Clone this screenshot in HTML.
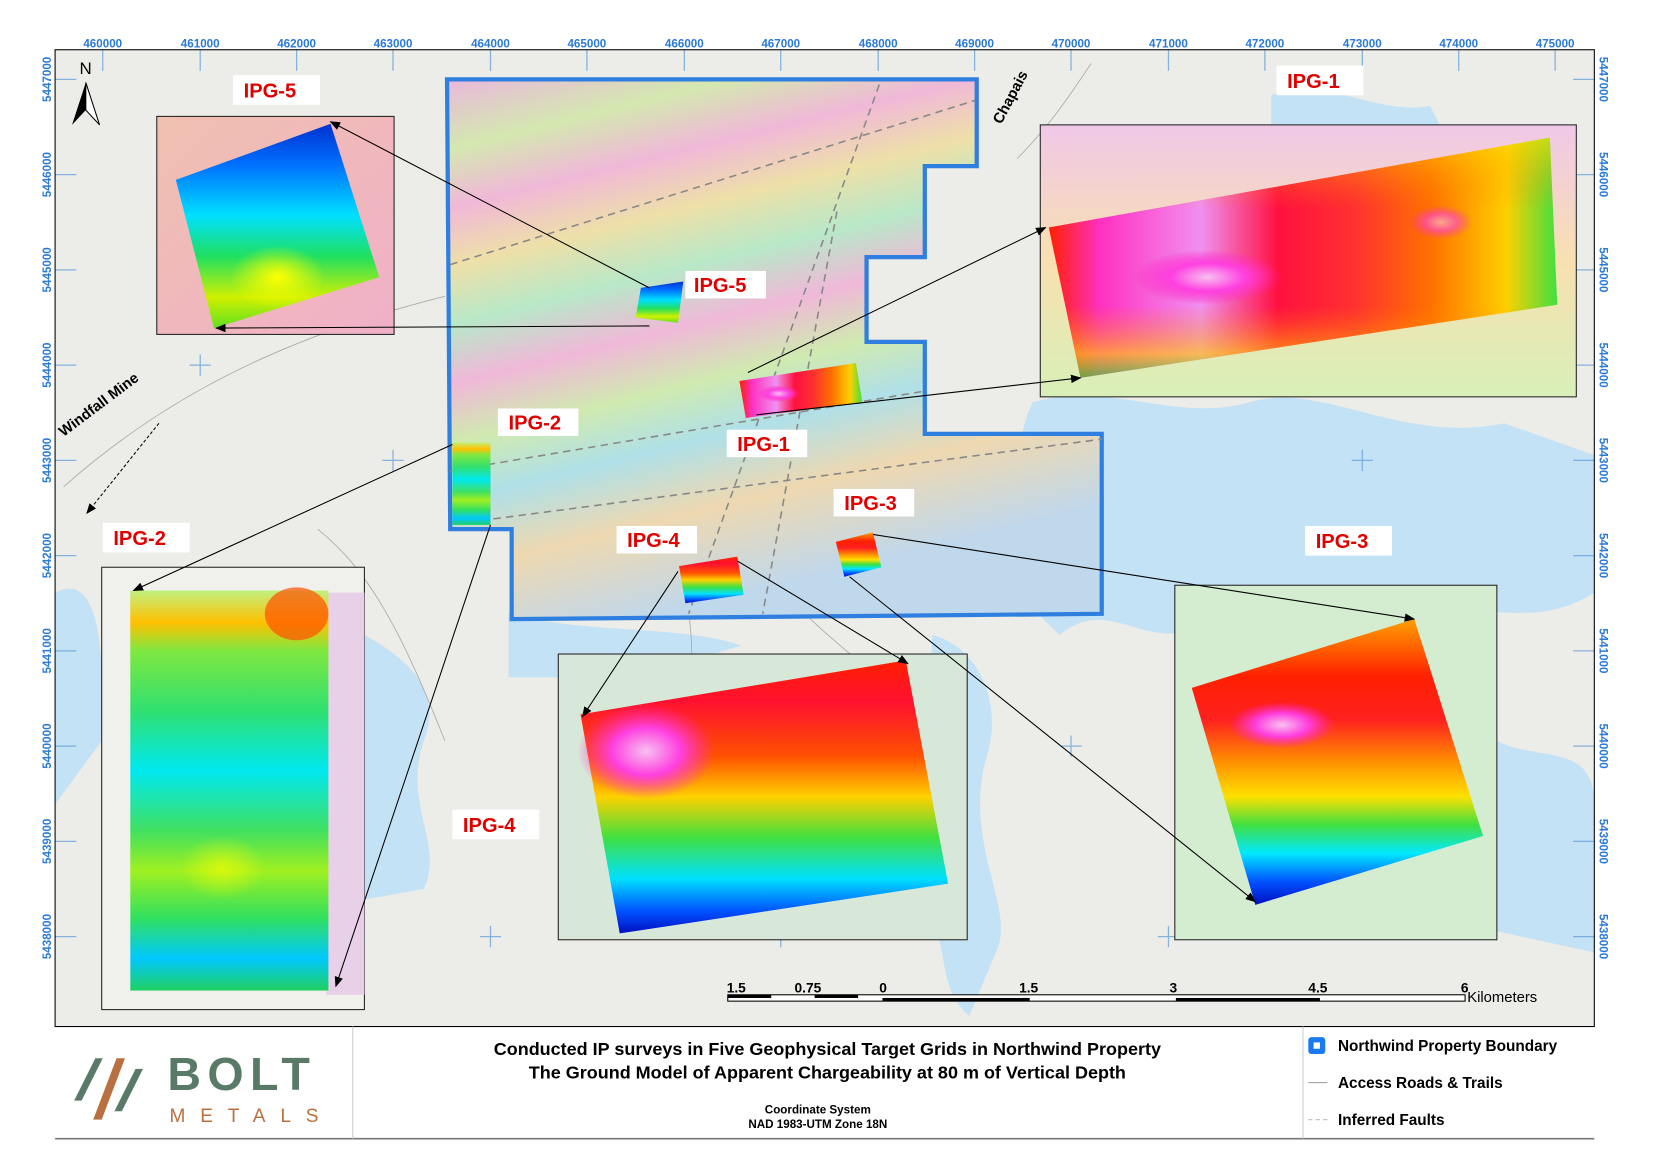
<!DOCTYPE html>
<html><head><meta charset="utf-8"><style>
html,body{margin:0;padding:0;background:#fff;width:1660px;height:1162px;overflow:hidden}
svg{display:block}
text{font-family:"Liberation Sans","DejaVu Sans",sans-serif}
</style></head><body>
<svg width="1660" height="1162" viewBox="0 0 1567 1098" preserveAspectRatio="none" xmlns="http://www.w3.org/2000/svg">
<defs>
<linearGradient id="prop" x1="0" y1="0" x2="0.3" y2="1">
<stop offset="0" stop-color="#eab8dc"/><stop offset="0.12" stop-color="#d4e8b0"/><stop offset="0.22" stop-color="#f0b8d8"/><stop offset="0.32" stop-color="#eee0a8"/><stop offset="0.42" stop-color="#b8e8c8"/><stop offset="0.52" stop-color="#f0b8d8"/><stop offset="0.62" stop-color="#d0eab0"/><stop offset="0.72" stop-color="#b0e0e8"/><stop offset="0.84" stop-color="#eed8b0"/><stop offset="1" stop-color="#c0d8ec"/>
</linearGradient>
<linearGradient id="g1" x1="0" y1="0" x2="1" y2="0">
<stop offset="0" stop-color="#ff2000"/><stop offset="0.1" stop-color="#ff30c0"/><stop offset="0.3" stop-color="#f090f0"/><stop offset="0.45" stop-color="#ff1040"/><stop offset="0.6" stop-color="#ff3030"/><stop offset="0.75" stop-color="#ff7000"/><stop offset="0.9" stop-color="#ffd000"/><stop offset="1" stop-color="#40e040"/>
</linearGradient>
<linearGradient id="g1v" x1="0" y1="0" x2="0" y2="1">
<stop offset="0" stop-color="#ffe000" stop-opacity="0.9"/><stop offset="0.3" stop-color="#ff8000" stop-opacity="0"/><stop offset="0.7" stop-color="#ff8000" stop-opacity="0"/><stop offset="0.9" stop-color="#ffd000" stop-opacity="0.9"/><stop offset="1" stop-color="#30d030"/>
</linearGradient>
<linearGradient id="g5" x1="0" y1="0" x2="0" y2="1">
<stop offset="0" stop-color="#0030d0"/><stop offset="0.2" stop-color="#0070ff"/><stop offset="0.45" stop-color="#00e0ff"/><stop offset="0.65" stop-color="#20e060"/><stop offset="0.85" stop-color="#d0f000"/><stop offset="1" stop-color="#60e020"/>
</linearGradient>
<linearGradient id="g2" x1="0" y1="0" x2="0" y2="1">
<stop offset="0" stop-color="#c0f080"/><stop offset="0.08" stop-color="#ffc000"/><stop offset="0.15" stop-color="#80e840"/><stop offset="0.3" stop-color="#30e070"/><stop offset="0.45" stop-color="#00e8f0"/><stop offset="0.6" stop-color="#40e060"/><stop offset="0.7" stop-color="#a0f020"/><stop offset="0.82" stop-color="#30e060"/><stop offset="0.92" stop-color="#00c8ff"/><stop offset="1" stop-color="#20d060"/>
</linearGradient>
<linearGradient id="g4" x1="0" y1="0" x2="0" y2="1">
<stop offset="0" stop-color="#ff2000"/><stop offset="0.15" stop-color="#ff1030"/><stop offset="0.35" stop-color="#ff5000"/><stop offset="0.5" stop-color="#ffd000"/><stop offset="0.65" stop-color="#40e040"/><stop offset="0.8" stop-color="#00e0ff"/><stop offset="0.92" stop-color="#0050ff"/><stop offset="1" stop-color="#0010c0"/>
</linearGradient>
<linearGradient id="g3" x1="0" y1="0" x2="0" y2="1">
<stop offset="0" stop-color="#ffa000"/><stop offset="0.2" stop-color="#ff2000"/><stop offset="0.35" stop-color="#ff2020"/><stop offset="0.5" stop-color="#ff9000"/><stop offset="0.62" stop-color="#ffe000"/><stop offset="0.72" stop-color="#40e040"/><stop offset="0.82" stop-color="#00e8ff"/><stop offset="0.92" stop-color="#0050ff"/><stop offset="1" stop-color="#0010c0"/>
</linearGradient>
<radialGradient id="pinkblob"><stop offset="0" stop-color="#f8c0f0"/><stop offset="0.5" stop-color="#ff40e0"/><stop offset="1" stop-color="#ff20c0" stop-opacity="0"/></radialGradient>
<radialGradient id="yelblob"><stop offset="0" stop-color="#ffff00"/><stop offset="1" stop-color="#ffff00" stop-opacity="0"/></radialGradient>
<linearGradient id="bg5" x1="0" y1="0" x2="1" y2="1"><stop offset="0" stop-color="#f0c0b0"/><stop offset="1" stop-color="#f0b0c8"/></linearGradient>
<linearGradient id="bg1" x1="0" y1="0" x2="0" y2="1"><stop offset="0" stop-color="#f0c8e8"/><stop offset="0.5" stop-color="#f8e0b0"/><stop offset="1" stop-color="#d8f0b8"/></linearGradient>
<marker id="ar" markerWidth="10" markerHeight="8" refX="9" refY="4" orient="auto"><path d="M0,0 L10,4 L0,8 z" fill="#000"/></marker>
</defs>
<rect width="1567" height="1098" fill="#fff"/>
<rect x="52" y="47" width="1453" height="923" fill="#ecece8"/>
<g fill="#c4e2f5">
<path d="M975,380 C1050,360 1110,400 1180,380 C1250,360 1320,420 1420,400 L1505,430 L1505,560 C1440,600 1400,560 1330,590 C1260,620 1200,560 1140,590 C1080,620 1050,560 1000,600 L960,560 C1000,500 940,450 975,380 Z"/>
<path d="M880,600 C920,610 950,660 930,720 C910,800 960,860 940,900 L915,960 C880,930 900,880 870,870 L880,600Z"/>
<path d="M52,560 C90,540 100,600 96,700 L52,760 Z"/>
<path d="M344,600 C380,620 420,650 400,700 C380,760 420,800 400,840 L344,850 Z"/>
<path d="M480,580 C560,600 640,590 700,610 L600,640 L480,640 Z"/>
<path d="M1200,90 C1250,70 1300,110 1350,100 L1360,120 L1200,118Z"/>
<path d="M1413,700 C1450,720 1505,700 1505,760 L1505,900 L1413,880 Z"/>
</g>
<g stroke="#5a9ad8" stroke-width="1.2" opacity="0.7">
<path d="M97,47v20M189,47v20M280,47v20M371,47v20M463,47v20M554,47v20M646,47v20M737,47v20M829,47v20M920,47v20M1011,47v20M1103,47v20M1194,47v20M1286,47v20M1377,47v20M1468,47v20"/>
<path d="M52,75h20M52,165h20M52,255h20M52,345h20M52,435h20M52,525h20M52,615h20M52,705h20M52,795h20M52,885h20"/>
<path d="M1485,75h20M1485,165h20M1485,255h20M1485,345h20M1485,435h20M1485,525h20M1485,615h20M1485,705h20M1485,795h20M1485,885h20"/>
<path d="M1103,155v20M1093,165h20M1194,605v20M1184,615h20M1011,695v20M1001,705h20M737,875v20M727,885h20M1286,425v20M1276,435h20M371,425v20M361,435h20M189,335v20M179,345h20M1377,245v20M1367,255h20M463,875v20M453,885h20M1103,875v20M1093,885h20"/>
</g>
<g stroke="#aaa" stroke-width="0.8" fill="none">
<path d="M60,460 C150,380 260,320 420,280"/><path d="M300,500 C350,540 380,600 420,700"/><path d="M650,580 C660,640 640,700 660,760"/><path d="M960,150 C990,120 1010,90 1030,60"/><path d="M760,580 C800,620 850,650 880,700"/>
</g>
<path d="M422,75 L922,75 L922,157 L873,157 L873,243 L818,243 L818,323 L873,323 L873,410 L1040,410 L1040,580 L483,585 L483,500 L425,500 Z" fill="url(#prop)" stroke="#2f7fe0" stroke-width="4"/>
<g stroke="#888" stroke-width="1.5" stroke-dasharray="7,5" fill="none">
<path d="M425,250 L920,95"/><path d="M425,445 L870,370"/><path d="M430,495 L1040,415"/><path d="M830,80 L650,580"/><path d="M790,200 L720,580"/>
</g>
<polygon points="605,272 645,266 640,305 600,300" fill="url(#g5)"/>
<polygon points="698,360 808,343 814,380 704,395" fill="url(#g1)"/>
<ellipse cx="735" cy="372" rx="20" ry="8" fill="url(#pinkblob)"/>
<rect x="427" y="418" width="36" height="78" fill="url(#g2)"/>
<polygon points="641,535 696,526 702,562 647,570" fill="url(#g4)"/>
<polygon points="789,512 824,503 832,536 797,545" fill="url(#g3)"/>
<rect x="148" y="110" width="224" height="206" fill="url(#bg5)" stroke="#222" stroke-width="1"/>
<polygon points="166,170 312,117 358,262 202,310" fill="url(#g5)"/>
<ellipse cx="262" cy="262" rx="45" ry="30" fill="url(#yelblob)"/>
<rect x="982" y="118" width="506" height="257" fill="url(#bg1)" stroke="#222" stroke-width="1"/>
<polygon points="990,215 1463,130 1470,288 1020,357" fill="url(#g1)"/>
<polygon points="990,215 1463,130 1470,288 1020,357" fill="url(#g1v)" opacity="0.7"/>
<ellipse cx="1140" cy="262" rx="70" ry="26" fill="url(#pinkblob)"/>
<ellipse cx="1360" cy="210" rx="30" ry="16" fill="url(#pinkblob)" opacity="0.6"/>
<rect x="96" y="536" width="248" height="418" fill="#f0f0ec" stroke="#222" stroke-width="1"/>
<rect x="308" y="560" width="36" height="380" fill="#e8d0e8"/>
<rect x="123" y="558" width="187" height="378" fill="url(#g2)"/>
<ellipse cx="210" cy="820" rx="40" ry="30" fill="url(#yelblob)" opacity="0.6"/>
<ellipse cx="280" cy="580" rx="30" ry="25" fill="#ff5000" opacity="0.7"/>
<rect x="527" y="618" width="386" height="270" fill="#d8e8d8" stroke="#222" stroke-width="1"/>
<polygon points="548,675 855,624 895,835 585,882" fill="url(#g4)"/>
<ellipse cx="610" cy="710" rx="65" ry="45" fill="url(#pinkblob)"/>
<rect x="1109" y="553" width="304" height="335" fill="#d4ecd0" stroke="#222" stroke-width="1"/>
<polygon points="1125,650 1335,585 1400,790 1185,855" fill="url(#g3)"/>
<ellipse cx="1210" cy="685" rx="50" ry="22" fill="url(#pinkblob)"/>
<g stroke="#000" stroke-width="1" marker-end="url(#ar)">
<line x1="613" y1="272" x2="312" y2="115"/><line x1="613" y1="308" x2="204" y2="310"/>
<line x1="706" y1="352" x2="987" y2="215"/><line x1="714" y1="392" x2="1020" y2="357"/>
<line x1="427" y1="420" x2="126" y2="558"/><line x1="463" y1="496" x2="317" y2="932"/>
<line x1="640" y1="540" x2="550" y2="677"/><line x1="696" y1="530" x2="857" y2="627"/>
<line x1="824" y1="505" x2="1335" y2="585"/><line x1="802" y1="545" x2="1185" y2="852"/>
</g>
<g font-weight="bold" fill="#e00000" font-size="19">
<rect x="220" y="71" width="82" height="28" fill="#fff"/><text x="230" y="92">IPG-5</text>
<rect x="1205" y="62" width="82" height="28" fill="#fff"/><text x="1215" y="83">IPG-1</text>
<rect x="97" y="494" width="82" height="28" fill="#fff"/><text x="107" y="515">IPG-2</text>
<rect x="1232" y="497" width="82" height="28" fill="#fff"/><text x="1242" y="518">IPG-3</text>
<rect x="427" y="765" width="82" height="28" fill="#fff"/><text x="437" y="786">IPG-4</text>
<rect x="647" y="256" width="76" height="26" fill="#fff"/><text x="655" y="276">IPG-5</text>
<rect x="470" y="386" width="76" height="26" fill="#fff"/><text x="480" y="406">IPG-2</text>
<rect x="686" y="406" width="76" height="26" fill="#fff"/><text x="696" y="426">IPG-1</text>
<rect x="787" y="462" width="76" height="26" fill="#fff"/><text x="797" y="482">IPG-3</text>
<rect x="582" y="497" width="76" height="26" fill="#fff"/><text x="592" y="517">IPG-4</text>
</g>
<text x="60" y="413" font-size="14" font-weight="bold" transform="rotate(-37 60 413)">Windfall Mine</text>
<line x1="150" y1="400" x2="82" y2="485" stroke="#000" stroke-dasharray="3,2" marker-end="url(#ar)"/>
<text x="945" y="118" font-size="14" font-weight="bold" transform="rotate(-62 945 118)">Chapais</text>
<text x="75" y="70" font-size="16">N</text>
<path d="M81,78 L68,118 L81,104 Z" fill="#000"/><path d="M81,78 L94,118 L81,104 Z" fill="#fff" stroke="#000"/>
<g font-size="13" font-weight="bold">
<rect x="687" y="940" width="696" height="6" fill="#fff" stroke="#000"/>
<rect x="687" y="940" width="41" height="3" fill="#000"/><rect x="769" y="940" width="41" height="3" fill="#000"/>
<rect x="833" y="943" width="139" height="3" fill="#000"/><rect x="1110" y="943" width="136" height="3" fill="#000"/>
<text x="686" y="938">1.5</text><text x="750" y="938">0.75</text><text x="830" y="938">0</text><text x="962" y="938">1.5</text><text x="1104" y="938">3</text><text x="1235" y="938">4.5</text><text x="1379" y="938">6</text>
<text x="1385" y="947" font-weight="normal" font-size="14">Kilometers</text>
</g>
<rect x="52" y="47" width="1453" height="923" fill="none" stroke="#000" stroke-width="1"/>
<g fill="#2a7ad8" font-size="11" font-weight="bold">
<g text-anchor="middle">
<text x="97" y="45">460000</text><text x="189" y="45">461000</text><text x="280" y="45">462000</text><text x="371" y="45">463000</text><text x="463" y="45">464000</text><text x="554" y="45">465000</text><text x="646" y="45">466000</text><text x="737" y="45">467000</text><text x="829" y="45">468000</text><text x="920" y="45">469000</text><text x="1011" y="45">470000</text><text x="1103" y="45">471000</text><text x="1194" y="45">472000</text><text x="1286" y="45">473000</text><text x="1377" y="45">474000</text><text x="1468" y="45">475000</text>
<g transform="rotate(-90)">
<text x="-75" y="48">5447000</text><text x="-165" y="48">5446000</text><text x="-255" y="48">5445000</text><text x="-345" y="48">5444000</text><text x="-435" y="48">5443000</text><text x="-525" y="48">5442000</text><text x="-615" y="48">5441000</text><text x="-705" y="48">5440000</text><text x="-795" y="48">5439000</text><text x="-885" y="48">5438000</text>
</g>
<g transform="rotate(90)">
<text x="75" y="-1510">5447000</text><text x="165" y="-1510">5446000</text><text x="255" y="-1510">5445000</text><text x="345" y="-1510">5444000</text><text x="435" y="-1510">5443000</text><text x="525" y="-1510">5442000</text><text x="615" y="-1510">5441000</text><text x="705" y="-1510">5440000</text><text x="795" y="-1510">5439000</text><text x="885" y="-1510">5438000</text>
</g>
</g></g>
<line x1="52" y1="1076" x2="1505" y2="1076" stroke="#777" stroke-width="1.5"/>
<line x1="333" y1="970" x2="333" y2="1076" stroke="#ccc"/>
<line x1="1230" y1="970" x2="1230" y2="1076" stroke="#ccc"/>
<g>
<polygon points="70,1040 90,1000 97,1000 77,1040" fill="#5a7a68"/>
<polygon points="88,1058 110,1000 118,1000 96,1058" fill="#b87040"/>
<polygon points="108,1050 128,1010 135,1010 115,1050" fill="#5a7a68"/>
<text x="158" y="1030" font-size="44" font-weight="bold" fill="#5a7a68" letter-spacing="6">BOLT</text>
<text x="160" y="1060" font-size="18" fill="#b87040" letter-spacing="14">METALS</text>
</g>
<g text-anchor="middle" font-weight="bold">
<text x="781" y="997" font-size="17">Conducted IP surveys in Five Geophysical Target Grids in Northwind Property</text>
<text x="781" y="1019" font-size="17">The Ground Model of Apparent Chargeability at 80 m of Vertical Depth</text>
<text x="772" y="1052" font-size="11">Coordinate System</text>
<text x="772" y="1066" font-size="11">NAD 1983-UTM Zone 18N</text>
</g>
<g font-weight="bold" font-size="14.5">
<rect x="1235" y="980" width="16" height="16" rx="3" fill="#1a7af0"/><rect x="1240" y="985" width="6" height="6" fill="#fff"/>
<text x="1263" y="993">Northwind Property Boundary</text>
<line x1="1235" y1="1023" x2="1253" y2="1023" stroke="#999"/>
<text x="1263" y="1028">Access Roads &amp; Trails</text>
<line x1="1235" y1="1058" x2="1253" y2="1058" stroke="#bbb" stroke-dasharray="4,3"/>
<text x="1263" y="1063">Inferred Faults</text>
</g>
</svg>
</body></html>
